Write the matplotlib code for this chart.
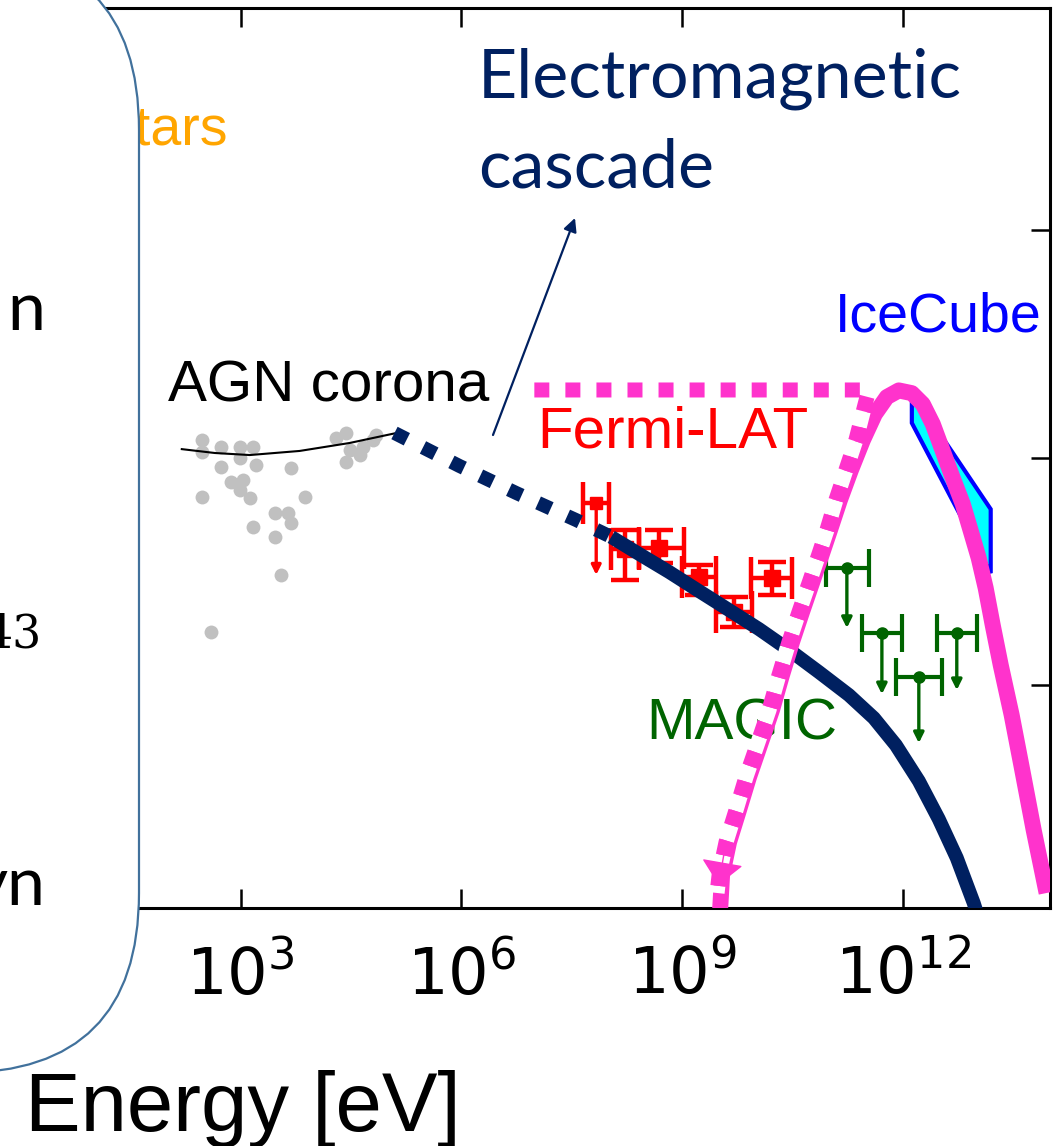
import numpy as np
import matplotlib
matplotlib.use("Agg")
import matplotlib.pyplot as plt
from matplotlib.transforms import Affine2D
from matplotlib.patches import FancyBboxPatch

W, H = 1061, 1146

# ---------------- data: log10(E [eV]) and log10(E^2 F) ----------------
xray_logE = [2.467, 2.467, 2.738, 2.986, 3.167, 2.738, 2.986, 3.213, 2.874, 3.031,
             3.122, 2.986, 2.467, 3.688, 3.869, 3.462, 3.642, 3.688, 3.167, 3.462,
             3.552, 2.602, 4.435, 4.299, 4.480, 4.660, 4.796, 4.435, 4.615, 4.842]
xray_logF = [-9.923, -9.975, -9.953, -9.953, -9.953, -10.040, -10.004, -10.033, -10.106, -10.099,
             -10.179, -10.143, -10.172, -10.047, -10.172, -10.245, -10.245, -10.289, -10.304, -10.348,
             -10.516, -10.766, -9.894, -9.916, -9.967, -9.953, -9.923, -10.018, -9.989, -9.901]

corona_logE = [2.199, 2.647, 3.122, 3.801, 4.480, 5.118]
corona_logF = [-9.963, -9.980, -9.989, -9.971, -9.936, -9.892]

cascade_ext_logE = [5.090, 5.973, 6.746, 7.561, 8.036]
cascade_ext_logF = [-9.892, -10.037, -10.156, -10.275, -10.349]

cascade_logE = [8.036, 8.416, 8.823, 9.230, 9.597, 10.045, 10.493, 10.859, 11.267, 11.606,
                11.905, 12.217, 12.488, 12.733, 12.963, 13.072]
cascade_logF = [-10.349, -10.424, -10.503, -10.587, -10.662, -10.754, -10.855, -10.943, -11.044, -11.145,
                -11.264, -11.422, -11.589, -11.760, -11.958, -12.068]

nu_logE = [9.516, 9.543, 9.638, 9.773, 9.909, 10.058, 10.221, 10.357, 10.493, 10.629, 10.764,
           10.886, 11.009, 11.144, 11.294, 11.457, 11.620, 11.783, 11.945, 12.122, 12.271,
           12.407, 12.542, 12.678, 12.814, 12.923, 13.031, 13.126, 13.221, 13.330, 13.479,
           13.615, 13.778, 13.954]
nu_logF = [-11.989, -11.835, -11.690, -11.549, -11.404, -11.264, -11.110, -10.956, -10.811, -10.679, -10.552,
           -10.437, -10.319, -10.187, -10.055, -9.923, -9.809, -9.734, -9.705, -9.717, -9.765,
           -9.853, -9.971, -10.090, -10.204, -10.323, -10.442, -10.574, -10.736, -10.912, -11.132,
           -11.360, -11.637, -11.914]

bound_logE = [6.991, 11.538, 11.484, 11.362, 11.226, 11.090, 10.968, 10.846, 10.724, 10.588,
              10.452, 10.316, 10.181, 10.018, 9.868, 9.733, 9.597, 9.502, 9.475]
bound_logF = [-9.703, -9.703, -9.769, -9.923, -10.055, -10.187, -10.319, -10.437, -10.552, -10.679,
              -10.811, -10.956, -11.110, -11.264, -11.404, -11.549, -11.690, -11.835, -11.914]

icecube_logE = [12.122, 13.194]
icecube_upper_logF = [-9.712, -10.227]
icecube_lower_logF = [-9.848, -10.508]

fermi_logE = [7.832, 8.226, 8.688, 9.230, 9.706, 10.221]
fermi_logE_lo = [7.656, 8.036, 8.416, 8.999, 9.461, 9.936]
fermi_logE_hi = [8.009, 8.416, 9.027, 9.461, 9.950, 10.493]
fermi_logF = [-10.200, -10.400, -10.398, -10.525, -10.679, -10.530]
fermi_logF_lo = [-10.200, -10.538, -10.464, -10.604, -10.745, -10.604]
fermi_logF_hi = [-10.200, -10.319, -10.319, -10.473, -10.613, -10.459]
fermi_ul_end = [-10.516, None, None, None, None, None]

magic_logE = [11.239, 11.715, 12.733, 12.217]
magic_logE_lo = [10.954, 11.443, 12.461, 11.905]
magic_logE_hi = [11.538, 11.986, 13.004, 12.529]
magic_logF = [-10.486, -10.771, -10.771, -10.965]
magic_ul_end = [-10.749, -11.040, -11.022, -11.255]

xticks = [1e3, 1e6, 1e9, 1e12]
yticks = [1e-11, 1e-10, 1e-9]

NAVY = "#002060"
PINK = "#ff33cc"
GREEN = "#006400"

p = lambda v: 10.0 ** np.asarray(v, dtype=float)

fig = plt.figure(figsize=(W / 100, H / 100), dpi=100)
PX = Affine2D().scale(1.0 / W, 1.0 / H) + fig.transFigure


def py(y):
    return H - y


ax = fig.add_axes([20 / W, (H - 908) / H, 1030 / W, 900 / H])
ax.set_xscale("log")
ax.set_yscale("log")
ax.set_xlim(1e0, 1e14)
ax.set_ylim(10 ** -11.98, 10 ** -8.024)

# X-ray data and corona fit
ax.plot(p(xray_logE), p(xray_logF), "o", color="#c0c0c0", ms=10, mec="none", zorder=1)
ax.plot(p(corona_logE), p(corona_logF), "-", color="black", lw=1.5, zorder=2)

# IceCube band
ub_x = list(p(icecube_logE)) + list(p(icecube_logE))[::-1]
ub_y = list(p(icecube_upper_logF)) + list(p(icecube_lower_logF))[::-1]
ax.fill(ub_x, ub_y, facecolor="#00ffff", edgecolor="#0000ff", lw=3.0, zorder=2)

# Fermi-LAT
for i in range(len(fermi_logE)):
    x = 10 ** fermi_logE[i]
    y = 10 ** fermi_logF[i]
    xerr = [[x - 10 ** fermi_logE_lo[i]], [10 ** fermi_logE_hi[i] - x]]
    ax.errorbar([x], [y], xerr=xerr, fmt="s", color="red", ms=11 if fermi_ul_end[i] is None else 8,
                elinewidth=3.2, capsize=15, capthick=3.2, zorder=3)
    if fermi_ul_end[i] is None:
        yerr = [[y - 10 ** fermi_logF_lo[i]], [10 ** fermi_logF_hi[i] - y]]
        ax.errorbar([x], [y], yerr=yerr, fmt="none", ecolor="red",
                    elinewidth=3.2, capsize=10, capthick=3.2, zorder=3)
    else:
        ax.annotate("", xy=(x, 10 ** fermi_ul_end[i]), xytext=(x, y),
                    arrowprops=dict(arrowstyle="-|>", color="red", lw=2.4,
                                    mutation_scale=14, shrinkA=0, shrinkB=0), zorder=3)

# MAGIC upper limits
for i in range(len(magic_logE)):
    x = 10 ** magic_logE[i]
    y = 10 ** magic_logF[i]
    xerr = [[x - 10 ** magic_logE_lo[i]], [10 ** magic_logE_hi[i] - x]]
    ax.errorbar([x], [y], xerr=xerr, fmt="o", color=GREEN, ms=8,
                elinewidth=3, capsize=14, capthick=3, zorder=3)
    ax.annotate("", xy=(x, 10 ** magic_ul_end[i]), xytext=(x, y),
                arrowprops=dict(arrowstyle="-|>", color=GREEN, lw=2.4,
                                mutation_scale=15, shrinkA=0, shrinkB=0), zorder=3)

# cascade
ax.plot(p(cascade_ext_logE), p(cascade_ext_logF), color=NAVY, lw=10,
        ls=(0, (1.0, 1.3)), zorder=4)
ax.plot(p(cascade_logE), p(cascade_logF), color=NAVY, lw=10,
        solid_capstyle="butt", solid_joinstyle="round", zorder=4)

ax.text(646, py(739), "MAGIC", transform=PX, color=GREEN, fontsize=42,
        family="Liberation Sans", ha="left", va="baseline", zorder=4)

# neutrino curve and bound
ax.plot(p(nu_logE), p(nu_logF), color=PINK, lw=11.5,
        solid_capstyle="butt", solid_joinstyle="round", zorder=5)
ax.plot(p(bound_logE), p(bound_logF), color=PINK, lw=10.8,
        ls=(0, (1.0, 1.07)), gapcolor="white", zorder=6)
ax.annotate("", xy=(10 ** bound_logE[-1], 10 ** bound_logF[-1]),
            xytext=(10 ** bound_logE[-3], 10 ** bound_logF[-3]),
            arrowprops=dict(arrowstyle="-|>,head_length=0.5,head_width=0.45", color=PINK, lw=1,
                            mutation_scale=30, shrinkA=0, shrinkB=-6), zorder=7)

# axes styling
ax.set_xticks(xticks)
ax.set_yticks(yticks)
ax.minorticks_off()
for s in ax.spines.values():
    s.set_linewidth(2.2)
ax.tick_params(which="both", direction="in", top=True, right=True, left=True,
               length=14, width=1.8, labelsize=46, pad=26, labelleft=False)
for lab in ax.get_xticklabels():
    lab.set_family("DejaVu Sans")

# texts
fig.text(25, py(1131), "Energy [eV]", transform=PX, fontsize=60,
         family="Liberation Sans", ha="left", va="baseline")
fig.text(168, py(402), "AGN corona", transform=PX, fontsize=42,
         family="Liberation Sans", ha="left", va="baseline", color="black", zorder=3)
fig.text(537, py(447), "Fermi-LAT", transform=PX, fontsize=42,
         family="Liberation Sans", ha="left", va="baseline", color="red", zorder=3)
fig.text(835, py(331), "IceCube", transform=PX, fontsize=40,
         family="Liberation Sans", ha="left", va="baseline", color="#0000ff", zorder=3)
fig.text(228, py(145), "Stars", transform=PX, fontsize=40,
         family="Liberation Sans", ha="right", va="baseline", color="#ffa500", zorder=0.5)
fig.text(478, py(98), "Electromagnetic", transform=PX, fontsize=49,
         family="Lato", ha="left", va="baseline", color=NAVY, zorder=3)
fig.text(478, py(188), "cascade", transform=PX, fontsize=49,
         family="Lato", ha="left", va="baseline", color=NAVY, zorder=3)
fig.add_artist(matplotlib.text.Annotation(
    "", xy=(575, py(218)), xytext=(493, py(435)), xycoords=PX, textcoords=PX,
    arrowprops=dict(arrowstyle="-|>", color=NAVY, lw=1.6, mutation_scale=20,
                    shrinkA=0, shrinkB=0)))

# rounded text box on the left
box = FancyBboxPatch((-500, py(1073)), 639, 1073 + 50,
                     boxstyle="round,pad=0,rounding_size=180", transform=PX,
                     facecolor="white", edgecolor="#41719c", lw=1.6, zorder=1)
fig.add_artist(box)
fig.text(45, py(330), "n", transform=PX, fontsize=49, family="Lato",
         ha="right", va="baseline", color="black", zorder=2)
fig.text(42, py(648), "43", transform=PX, fontsize=33, family="DejaVu Serif",
         ha="right", va="baseline", color="black", zorder=2)
fig.text(45, py(905), "yn", transform=PX, fontsize=49, family="Lato",
         ha="right", va="baseline", color="black", zorder=2)

fig.savefig("out.png", dpi=100)
